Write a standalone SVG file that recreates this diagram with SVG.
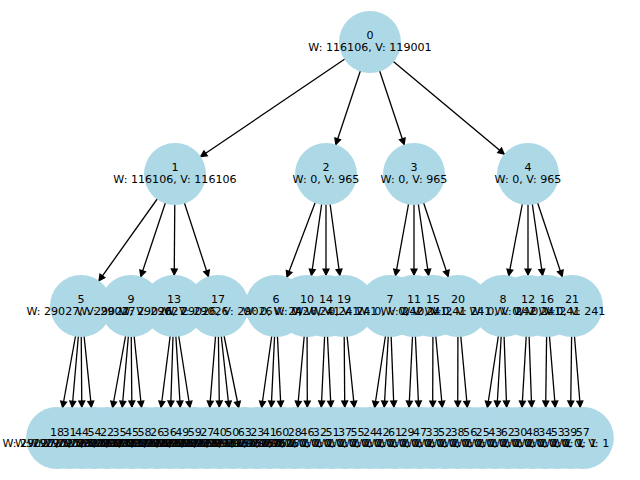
<svg xmlns="http://www.w3.org/2000/svg" width="640" height="480" viewBox="0 0 640 480">
<style>
.n{fill:#add8e6}
.e{stroke:#000;stroke-width:1.3;fill:none}
text{font-family:"DejaVu Sans","Liberation Sans",sans-serif;font-size:11.1px;fill:#000;text-anchor:middle}
</style>
<defs>
<marker id="ah" markerUnits="userSpaceOnUse" orient="auto" viewBox="-45 -6 45 12" refX="0" refY="0" markerWidth="45" markerHeight="12" overflow="visible">
<path d="M-31,0 L-37,-3 L-37,3 Z" fill="#000" stroke="#000" stroke-width="1.2"/>
</marker>
</defs>
<rect width="640" height="480" fill="#fff"/>
<g id="edges" marker-end="url(#ah)">
<line class="e" x1="370" y1="42" x2="175" y2="174" marker-end="url(#ah)"/>
<line class="e" x1="370" y1="42" x2="326" y2="174" marker-end="url(#ah)"/>
<line class="e" x1="370" y1="42" x2="414" y2="174" marker-end="url(#ah)"/>
<line class="e" x1="370" y1="42" x2="528" y2="174" marker-end="url(#ah)"/>
<line class="e" x1="175" y1="174" x2="81" y2="306" marker-end="url(#ah)"/>
<line class="e" x1="175" y1="174" x2="131" y2="306" marker-end="url(#ah)"/>
<line class="e" x1="175" y1="174" x2="174" y2="306" marker-end="url(#ah)"/>
<line class="e" x1="175" y1="174" x2="218" y2="306" marker-end="url(#ah)"/>
<line class="e" x1="326" y1="174" x2="276" y2="306" marker-end="url(#ah)"/>
<line class="e" x1="326" y1="174" x2="307" y2="306" marker-end="url(#ah)"/>
<line class="e" x1="326" y1="174" x2="326" y2="306" marker-end="url(#ah)"/>
<line class="e" x1="326" y1="174" x2="344" y2="306" marker-end="url(#ah)"/>
<line class="e" x1="414" y1="174" x2="390" y2="306" marker-end="url(#ah)"/>
<line class="e" x1="414" y1="174" x2="414" y2="306" marker-end="url(#ah)"/>
<line class="e" x1="414" y1="174" x2="433" y2="306" marker-end="url(#ah)"/>
<line class="e" x1="414" y1="174" x2="458" y2="306" marker-end="url(#ah)"/>
<line class="e" x1="528" y1="174" x2="503" y2="306" marker-end="url(#ah)"/>
<line class="e" x1="528" y1="174" x2="528" y2="306" marker-end="url(#ah)"/>
<line class="e" x1="528" y1="174" x2="547" y2="306" marker-end="url(#ah)"/>
<line class="e" x1="528" y1="174" x2="572" y2="306" marker-end="url(#ah)"/>
<line class="e" x1="81" y1="306" x2="57" y2="438" marker-end="url(#ah)"/>
<line class="e" x1="81" y1="306" x2="69.52" y2="438" marker-end="url(#ah)"/>
<line class="e" x1="81" y1="306" x2="82.04" y2="438" marker-end="url(#ah)"/>
<line class="e" x1="81" y1="306" x2="94.56" y2="438" marker-end="url(#ah)"/>
<line class="e" x1="131" y1="306" x2="107.08" y2="438" marker-end="url(#ah)"/>
<line class="e" x1="131" y1="306" x2="119.6" y2="438" marker-end="url(#ah)"/>
<line class="e" x1="131" y1="306" x2="132.12" y2="438" marker-end="url(#ah)"/>
<line class="e" x1="131" y1="306" x2="144.64" y2="438" marker-end="url(#ah)"/>
<line class="e" x1="174" y1="306" x2="157.16" y2="438" marker-end="url(#ah)"/>
<line class="e" x1="174" y1="306" x2="169.68" y2="438" marker-end="url(#ah)"/>
<line class="e" x1="174" y1="306" x2="182.2" y2="438" marker-end="url(#ah)"/>
<line class="e" x1="174" y1="306" x2="194.72" y2="438" marker-end="url(#ah)"/>
<line class="e" x1="218" y1="306" x2="207.24" y2="438" marker-end="url(#ah)"/>
<line class="e" x1="218" y1="306" x2="219.76" y2="438" marker-end="url(#ah)"/>
<line class="e" x1="218" y1="306" x2="232.28" y2="438" marker-end="url(#ah)"/>
<line class="e" x1="218" y1="306" x2="244.8" y2="438" marker-end="url(#ah)"/>
<line class="e" x1="276" y1="306" x2="257.32" y2="438" marker-end="url(#ah)"/>
<line class="e" x1="276" y1="306" x2="269.84" y2="438" marker-end="url(#ah)"/>
<line class="e" x1="276" y1="306" x2="282.36" y2="438" marker-end="url(#ah)"/>
<line class="e" x1="307" y1="306" x2="294.88" y2="438" marker-end="url(#ah)"/>
<line class="e" x1="307" y1="306" x2="307.4" y2="438" marker-end="url(#ah)"/>
<line class="e" x1="326" y1="306" x2="319.92" y2="438" marker-end="url(#ah)"/>
<line class="e" x1="326" y1="306" x2="332.44" y2="438" marker-end="url(#ah)"/>
<line class="e" x1="344" y1="306" x2="344.96" y2="438" marker-end="url(#ah)"/>
<line class="e" x1="344" y1="306" x2="357.48" y2="438" marker-end="url(#ah)"/>
<line class="e" x1="390" y1="306" x2="370" y2="438" marker-end="url(#ah)"/>
<line class="e" x1="390" y1="306" x2="382.52" y2="438" marker-end="url(#ah)"/>
<line class="e" x1="390" y1="306" x2="395.04" y2="438" marker-end="url(#ah)"/>
<line class="e" x1="414" y1="306" x2="407.56" y2="438" marker-end="url(#ah)"/>
<line class="e" x1="414" y1="306" x2="420.08" y2="438" marker-end="url(#ah)"/>
<line class="e" x1="433" y1="306" x2="432.6" y2="438" marker-end="url(#ah)"/>
<line class="e" x1="433" y1="306" x2="445.12" y2="438" marker-end="url(#ah)"/>
<line class="e" x1="458" y1="306" x2="457.64" y2="438" marker-end="url(#ah)"/>
<line class="e" x1="458" y1="306" x2="470.16" y2="438" marker-end="url(#ah)"/>
<line class="e" x1="503" y1="306" x2="482.68" y2="438" marker-end="url(#ah)"/>
<line class="e" x1="503" y1="306" x2="495.2" y2="438" marker-end="url(#ah)"/>
<line class="e" x1="503" y1="306" x2="507.72" y2="438" marker-end="url(#ah)"/>
<line class="e" x1="528" y1="306" x2="520.24" y2="438" marker-end="url(#ah)"/>
<line class="e" x1="528" y1="306" x2="532.76" y2="438" marker-end="url(#ah)"/>
<line class="e" x1="547" y1="306" x2="545.28" y2="438" marker-end="url(#ah)"/>
<line class="e" x1="547" y1="306" x2="557.8" y2="438" marker-end="url(#ah)"/>
<line class="e" x1="572" y1="306" x2="570.32" y2="438" marker-end="url(#ah)"/>
<line class="e" x1="572" y1="306" x2="582.84" y2="438" marker-end="url(#ah)"/>
</g>
<g id="nodes">
<g id="node0"><circle class="n" cx="370" cy="42" r="31"/></g>
<g id="node1"><circle class="n" cx="175" cy="174" r="31"/></g>
<g id="node2"><circle class="n" cx="326" cy="174" r="31"/></g>
<g id="node3"><circle class="n" cx="414" cy="174" r="31"/></g>
<g id="node4"><circle class="n" cx="528" cy="174" r="31"/></g>
<g id="node5"><circle class="n" cx="81" cy="306" r="31"/></g>
<g id="node9"><circle class="n" cx="131" cy="306" r="31"/></g>
<g id="node13"><circle class="n" cx="174" cy="306" r="31"/></g>
<g id="node17"><circle class="n" cx="218" cy="306" r="31"/></g>
<g id="node6"><circle class="n" cx="276" cy="306" r="31"/></g>
<g id="node10"><circle class="n" cx="307" cy="306" r="31"/></g>
<g id="node14"><circle class="n" cx="326" cy="306" r="31"/></g>
<g id="node19"><circle class="n" cx="344" cy="306" r="31"/></g>
<g id="node7"><circle class="n" cx="390" cy="306" r="31"/></g>
<g id="node11"><circle class="n" cx="414" cy="306" r="31"/></g>
<g id="node15"><circle class="n" cx="433" cy="306" r="31"/></g>
<g id="node20"><circle class="n" cx="458" cy="306" r="31"/></g>
<g id="node8"><circle class="n" cx="503" cy="306" r="31"/></g>
<g id="node12"><circle class="n" cx="528" cy="306" r="31"/></g>
<g id="node16"><circle class="n" cx="547" cy="306" r="31"/></g>
<g id="node21"><circle class="n" cx="572" cy="306" r="31"/></g>
<g id="node18"><circle class="n" cx="57" cy="438" r="31"/></g>
<g id="node31"><circle class="n" cx="69.52" cy="438" r="31"/></g>
<g id="node44"><circle class="n" cx="82.04" cy="438" r="31"/></g>
<g id="node54"><circle class="n" cx="94.56" cy="438" r="31"/></g>
<g id="node22"><circle class="n" cx="107.08" cy="438" r="31"/></g>
<g id="node35"><circle class="n" cx="119.6" cy="438" r="31"/></g>
<g id="node45"><circle class="n" cx="132.12" cy="438" r="31"/></g>
<g id="node58"><circle class="n" cx="144.64" cy="438" r="31"/></g>
<g id="node26"><circle class="n" cx="157.16" cy="438" r="31"/></g>
<g id="node36"><circle class="n" cx="169.68" cy="438" r="31"/></g>
<g id="node49"><circle class="n" cx="182.2" cy="438" r="31"/></g>
<g id="node59"><circle class="n" cx="194.72" cy="438" r="31"/></g>
<g id="node27"><circle class="n" cx="207.24" cy="438" r="31"/></g>
<g id="node40"><circle class="n" cx="219.76" cy="438" r="31"/></g>
<g id="node50"><circle class="n" cx="232.28" cy="438" r="31"/></g>
<g id="node63"><circle class="n" cx="244.8" cy="438" r="31"/></g>
<g id="node23"><circle class="n" cx="257.32" cy="438" r="31"/></g>
<g id="node41"><circle class="n" cx="269.84" cy="438" r="31"/></g>
<g id="node60"><circle class="n" cx="282.36" cy="438" r="31"/></g>
<g id="node28"><circle class="n" cx="294.88" cy="438" r="31"/></g>
<g id="node46"><circle class="n" cx="307.4" cy="438" r="31"/></g>
<g id="node32"><circle class="n" cx="319.92" cy="438" r="31"/></g>
<g id="node51"><circle class="n" cx="332.44" cy="438" r="31"/></g>
<g id="node37"><circle class="n" cx="344.96" cy="438" r="31"/></g>
<g id="node55"><circle class="n" cx="357.48" cy="438" r="31"/></g>
<g id="node24"><circle class="n" cx="370" cy="438" r="31"/></g>
<g id="node42"><circle class="n" cx="382.52" cy="438" r="31"/></g>
<g id="node61"><circle class="n" cx="395.04" cy="438" r="31"/></g>
<g id="node29"><circle class="n" cx="407.56" cy="438" r="31"/></g>
<g id="node47"><circle class="n" cx="420.08" cy="438" r="31"/></g>
<g id="node33"><circle class="n" cx="432.6" cy="438" r="31"/></g>
<g id="node52"><circle class="n" cx="445.12" cy="438" r="31"/></g>
<g id="node38"><circle class="n" cx="457.64" cy="438" r="31"/></g>
<g id="node56"><circle class="n" cx="470.16" cy="438" r="31"/></g>
<g id="node25"><circle class="n" cx="482.68" cy="438" r="31"/></g>
<g id="node43"><circle class="n" cx="495.2" cy="438" r="31"/></g>
<g id="node62"><circle class="n" cx="507.72" cy="438" r="31"/></g>
<g id="node30"><circle class="n" cx="520.24" cy="438" r="31"/></g>
<g id="node48"><circle class="n" cx="532.76" cy="438" r="31"/></g>
<g id="node34"><circle class="n" cx="545.28" cy="438" r="31"/></g>
<g id="node53"><circle class="n" cx="557.8" cy="438" r="31"/></g>
<g id="node39"><circle class="n" cx="570.32" cy="438" r="31"/></g>
<g id="node57"><circle class="n" cx="582.84" cy="438" r="31"/></g>
</g>
<g id="labels">
<text id="label0" x="370"><tspan x="370" y="39.3">0</tspan><tspan x="370" y="50.5">W: 116106, V: 119001</tspan></text>
<text id="label1"><tspan x="175" y="171.3">1</tspan><tspan x="175" y="182.5">W: 116106, V: 116106</tspan></text>
<text id="label2"><tspan x="326" y="171.3">2</tspan><tspan x="326" y="182.5">W: 0, V: 965</tspan></text>
<text id="label3"><tspan x="414" y="171.3">3</tspan><tspan x="414" y="182.5">W: 0, V: 965</tspan></text>
<text id="label4"><tspan x="528" y="171.3">4</tspan><tspan x="528" y="182.5">W: 0, V: 965</tspan></text>
<text id="label5"><tspan x="81" y="303.3">5</tspan><tspan x="81" y="314.5">W: 29027, V: 29027</tspan></text>
<text id="label9"><tspan x="131" y="303.3">9</tspan><tspan x="131" y="314.5">W: 29027, V: 29027</tspan></text>
<text id="label13"><tspan x="174" y="303.3">13</tspan><tspan x="174" y="314.5">W: 29026, V: 29026</tspan></text>
<text id="label17"><tspan x="218" y="303.3">17</tspan><tspan x="218" y="314.5">W: 29026, V: 29026</tspan></text>
<text id="label6"><tspan x="276" y="303.3">6</tspan><tspan x="276" y="314.5">W: 0, V: 242</tspan></text>
<text id="label10"><tspan x="307" y="303.3">10</tspan><tspan x="307" y="314.5">W: 0, V: 241</tspan></text>
<text id="label14"><tspan x="326" y="303.3">14</tspan><tspan x="326" y="314.5">W: 0, V: 241</tspan></text>
<text id="label19"><tspan x="344" y="303.3">19</tspan><tspan x="344" y="314.5">W: 0, V: 241</tspan></text>
<text id="label7"><tspan x="390" y="303.3">7</tspan><tspan x="390" y="314.5">W: 0, V: 242</tspan></text>
<text id="label11"><tspan x="414" y="303.3">11</tspan><tspan x="414" y="314.5">W: 0, V: 241</tspan></text>
<text id="label15"><tspan x="433" y="303.3">15</tspan><tspan x="433" y="314.5">W: 0, V: 241</tspan></text>
<text id="label20"><tspan x="458" y="303.3">20</tspan><tspan x="458" y="314.5">W: 0, V: 241</tspan></text>
<text id="label8"><tspan x="503" y="303.3">8</tspan><tspan x="503" y="314.5">W: 0, V: 242</tspan></text>
<text id="label12"><tspan x="528" y="303.3">12</tspan><tspan x="528" y="314.5">W: 0, V: 241</tspan></text>
<text id="label16"><tspan x="547" y="303.3">16</tspan><tspan x="547" y="314.5">W: 0, V: 241</tspan></text>
<text id="label21"><tspan x="572" y="303.3">21</tspan><tspan x="572" y="314.5">W: 0, V: 241</tspan></text>
<text id="label18"><tspan x="57" y="435.5">18</tspan><tspan x="57" y="446.7">W: 29027, V: 29027</tspan></text>
<text id="label31"><tspan x="69.52" y="435.5">31</tspan><tspan x="69.52" y="446.7">W: 29027, V: 29027</tspan></text>
<text id="label44"><tspan x="82.04" y="435.5">44</tspan><tspan x="82.04" y="446.7">W: 29027, V: 29027</tspan></text>
<text id="label54"><tspan x="94.56" y="435.5">54</tspan><tspan x="94.56" y="446.7">W: 29027, V: 29027</tspan></text>
<text id="label22"><tspan x="107.08" y="435.5">22</tspan><tspan x="107.08" y="446.7">W: 29027, V: 29027</tspan></text>
<text id="label35"><tspan x="119.6" y="435.5">35</tspan><tspan x="119.6" y="446.7">W: 29027, V: 29027</tspan></text>
<text id="label45"><tspan x="132.12" y="435.5">45</tspan><tspan x="132.12" y="446.7">W: 29027, V: 29027</tspan></text>
<text id="label58"><tspan x="144.64" y="435.5">58</tspan><tspan x="144.64" y="446.7">W: 29027, V: 29027</tspan></text>
<text id="label26"><tspan x="157.16" y="435.5">26</tspan><tspan x="157.16" y="446.7">W: 29026, V: 29026</tspan></text>
<text id="label36"><tspan x="169.68" y="435.5">36</tspan><tspan x="169.68" y="446.7">W: 29026, V: 29026</tspan></text>
<text id="label49"><tspan x="182.2" y="435.5">49</tspan><tspan x="182.2" y="446.7">W: 29026, V: 29026</tspan></text>
<text id="label59"><tspan x="194.72" y="435.5">59</tspan><tspan x="194.72" y="446.7">W: 29026, V: 29026</tspan></text>
<text id="label27"><tspan x="207.24" y="435.5">27</tspan><tspan x="207.24" y="446.7">W: 29026, V: 29026</tspan></text>
<text id="label40"><tspan x="219.76" y="435.5">40</tspan><tspan x="219.76" y="446.7">W: 29026, V: 29026</tspan></text>
<text id="label50"><tspan x="232.28" y="435.5">50</tspan><tspan x="232.28" y="446.7">W: 29026, V: 29026</tspan></text>
<text id="label63"><tspan x="244.8" y="435.5">63</tspan><tspan x="244.8" y="446.7">W: 29026, V: 29026</tspan></text>
<text id="label23"><tspan x="257.32" y="435.5">23</tspan><tspan x="257.32" y="446.7">W: 0, V: 1</tspan></text>
<text id="label41"><tspan x="269.84" y="435.5">41</tspan><tspan x="269.84" y="446.7">W: 0, V: 1</tspan></text>
<text id="label60"><tspan x="282.36" y="435.5">60</tspan><tspan x="282.36" y="446.7">W: 0, V: 1</tspan></text>
<text id="label28"><tspan x="294.88" y="435.5">28</tspan><tspan x="294.88" y="446.7">W: 0, V: 1</tspan></text>
<text id="label46"><tspan x="307.4" y="435.5">46</tspan><tspan x="307.4" y="446.7">W: 0, V: 1</tspan></text>
<text id="label32"><tspan x="319.92" y="435.5">32</tspan><tspan x="319.92" y="446.7">W: 0, V: 1</tspan></text>
<text id="label51"><tspan x="332.44" y="435.5">51</tspan><tspan x="332.44" y="446.7">W: 0, V: 1</tspan></text>
<text id="label37"><tspan x="344.96" y="435.5">37</tspan><tspan x="344.96" y="446.7">W: 0, V: 1</tspan></text>
<text id="label55"><tspan x="357.48" y="435.5">55</tspan><tspan x="357.48" y="446.7">W: 0, V: 1</tspan></text>
<text id="label24"><tspan x="370" y="435.5">24</tspan><tspan x="370" y="446.7">W: 0, V: 1</tspan></text>
<text id="label42"><tspan x="382.52" y="435.5">42</tspan><tspan x="382.52" y="446.7">W: 0, V: 1</tspan></text>
<text id="label61"><tspan x="395.04" y="435.5">61</tspan><tspan x="395.04" y="446.7">W: 0, V: 1</tspan></text>
<text id="label29"><tspan x="407.56" y="435.5">29</tspan><tspan x="407.56" y="446.7">W: 0, V: 1</tspan></text>
<text id="label47"><tspan x="420.08" y="435.5">47</tspan><tspan x="420.08" y="446.7">W: 0, V: 1</tspan></text>
<text id="label33"><tspan x="432.6" y="435.5">33</tspan><tspan x="432.6" y="446.7">W: 0, V: 1</tspan></text>
<text id="label52"><tspan x="445.12" y="435.5">52</tspan><tspan x="445.12" y="446.7">W: 0, V: 1</tspan></text>
<text id="label38"><tspan x="457.64" y="435.5">38</tspan><tspan x="457.64" y="446.7">W: 0, V: 1</tspan></text>
<text id="label56"><tspan x="470.16" y="435.5">56</tspan><tspan x="470.16" y="446.7">W: 0, V: 1</tspan></text>
<text id="label25"><tspan x="482.68" y="435.5">25</tspan><tspan x="482.68" y="446.7">W: 0, V: 1</tspan></text>
<text id="label43"><tspan x="495.2" y="435.5">43</tspan><tspan x="495.2" y="446.7">W: 0, V: 1</tspan></text>
<text id="label62"><tspan x="507.72" y="435.5">62</tspan><tspan x="507.72" y="446.7">W: 0, V: 1</tspan></text>
<text id="label30"><tspan x="520.24" y="435.5">30</tspan><tspan x="520.24" y="446.7">W: 0, V: 1</tspan></text>
<text id="label48"><tspan x="532.76" y="435.5">48</tspan><tspan x="532.76" y="446.7">W: 0, V: 1</tspan></text>
<text id="label34"><tspan x="545.28" y="435.5">34</tspan><tspan x="545.28" y="446.7">W: 0, V: 1</tspan></text>
<text id="label53"><tspan x="557.8" y="435.5">53</tspan><tspan x="557.8" y="446.7">W: 0, V: 1</tspan></text>
<text id="label39"><tspan x="570.32" y="435.5">39</tspan><tspan x="570.32" y="446.7">W: 0, V: 1</tspan></text>
<text id="label57"><tspan x="582.84" y="435.5">57</tspan><tspan x="582.84" y="446.7">W: 0, V: 1</tspan></text>
</g>
</svg>
